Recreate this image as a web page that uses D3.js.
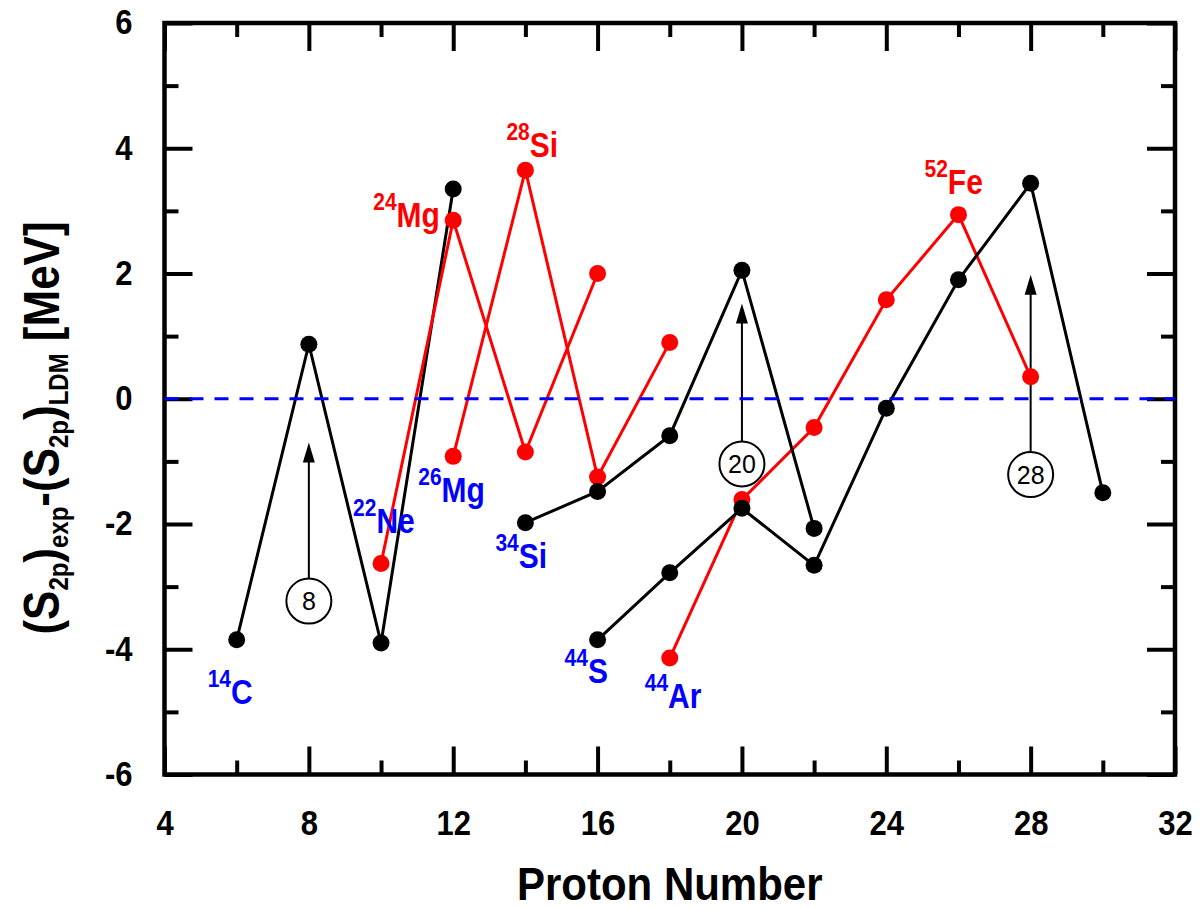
<!DOCTYPE html>
<html>
<head>
<meta charset="utf-8">
<script src="https://cdn.jsdelivr.net/npm/d3@7"></script>
<style>
  body { margin: 0; background: #fff; }
  svg text { font-family: Arial, "Liberation Sans", Helvetica, sans-serif; }
</style>
</head>
<body>
<svg id="chart" width="1200" height="909"></svg>
<script>
// Axis ticks
const xMajorTicks = [4, 8, 12, 16, 20, 24, 28, 32];
const xMinorTicks = [6, 10, 14, 18, 22, 26, 30];
const yMajorTicks = [-6, -4, -2, 0, 2, 4, 6];
const yMinorTicks = [-5, -3, -1, 1, 3, 5];

// Chains: proton number Z and (S2p)exp - (S2p)LDM in MeV
const zC14 = [6, 8, 10, 12];
const dC14 = [-3.85, 0.87, -3.90, 3.35];
const zNe22 = [10, 12, 14, 16];
const dNe22 = [-2.63, 2.85, -0.85, 2.00];
const zMg26 = [12, 14, 16, 18];
const dMg26 = [-0.92, 3.65, -1.25, 0.90];
const zAr44 = [18, 20, 22, 24, 26, 28];
const dAr44 = [-4.14, -1.61, -0.46, 1.58, 2.94, 0.35];
const zSi34 = [14, 16, 18, 20, 22];
const dSi34 = [-1.98, -1.48, -0.59, 2.05, -2.07];
const zS44 = [16, 18, 20, 22, 24, 26, 28, 30];
const dS44 = [-3.85, -2.78, -1.75, -2.66, -0.15, 1.90, 3.44, -1.50];

// Magic proton numbers: circle position and arrow tip (MeV)
const magicNumbers = [8, 20, 28];
const magicCircleAt = [-3.23, -1.04, -1.21];
const magicArrowTip = [-0.70, 1.52, 1.98];

// Nuclide labels (mass number, element) attached to a chain point
const labelMass = ["14", "22", "26", "34", "44", "44", "24", "28", "52"];
const labelElement = ["C", "Ne", "Mg", "Si", "S", "Ar", "Mg", "Si", "Fe"];
const labelPointZ = [6, 10, 12, 14, 16, 18, 12, 14, 26];
const labelPointD = [-3.85, -2.63, -0.92, -1.98, -3.85, -4.14, 2.85, 3.65, 2.94];

const RED = "#ff0000", BLUE = "#0000ff", BLACK = "#000000";
const labelColor = [BLUE, BLUE, BLUE, BLUE, BLUE, BLUE, RED, RED, RED];
// label offsets in pixels from the attached point (left edge, baseline)
const labelOffset = [[-29, 64], [-28, -30], [-35, 46], [-30, 45], [-33, 43], [-25, 50], [-80, 7], [-19, -13], [-34, -21]];

// glyphs are drawn slightly tall
const STRETCH = 1.14;

const svg = d3.select("#chart");
const x = d3.scaleLinear().domain([4, 32]).range([164.5, 1175]);
const y = d3.scaleLinear().domain([-6, 6]).range([774.5, 23]);

function styleAxis(g) {
  g.select(".domain").remove();
  g.selectAll(".tick line").attr("stroke", BLACK).attr("stroke-width", 4);
  g.selectAll(".tick text")
    .attr("fill", BLACK)
    .attr("font-size", 31)
    .attr("font-weight", "bold")
    .attr("font-family", "Arial, 'Liberation Sans', sans-serif");
}
const fmt = d => String(d);
const MAJ = 28, MIN = 14;

// bottom
const bottomAxis = svg.append("g").attr("transform", `translate(0,${y(-6)})`)
  .call(d3.axisBottom(x).tickValues(xMajorTicks).tickSize(-MAJ).tickPadding(36).tickFormat(fmt)).call(styleAxis);
bottomAxis.selectAll(".tick text")
  .attr("dy", null).attr("y", 61 / STRETCH)
  .attr("transform", `scale(1,${STRETCH})`);
svg.append("g").attr("transform", `translate(0,${y(-6)})`)
  .call(d3.axisBottom(x).tickValues(xMinorTicks).tickSize(-MIN).tickFormat("")).call(styleAxis);
// top
svg.append("g").attr("transform", `translate(0,${y(6)})`)
  .call(d3.axisTop(x).tickValues(xMajorTicks).tickSize(-MAJ).tickFormat("")).call(styleAxis);
svg.append("g").attr("transform", `translate(0,${y(6)})`)
  .call(d3.axisTop(x).tickValues(xMinorTicks).tickSize(-MIN).tickFormat("")).call(styleAxis);
// left
const leftAxis = svg.append("g").attr("transform", `translate(${x(4)},0)`)
  .call(d3.axisLeft(y).tickValues(yMajorTicks).tickSize(-MAJ).tickPadding(32).tickFormat(fmt)).call(styleAxis);
leftAxis.selectAll(".tick text")
  .attr("dy", "0.31em")
  .attr("transform", `scale(1,${STRETCH})`);
svg.append("g").attr("transform", `translate(${x(4)},0)`)
  .call(d3.axisLeft(y).tickValues(yMinorTicks).tickSize(-MIN).tickFormat("")).call(styleAxis);
// right
svg.append("g").attr("transform", `translate(${x(32)},0)`)
  .call(d3.axisRight(y).tickValues(yMajorTicks).tickSize(-MAJ).tickFormat("")).call(styleAxis);
svg.append("g").attr("transform", `translate(${x(32)},0)`)
  .call(d3.axisRight(y).tickValues(yMinorTicks).tickSize(-MIN).tickFormat("")).call(styleAxis);

// frame
svg.append("rect")
  .attr("x", x(4)).attr("y", y(6))
  .attr("width", x(32) - x(4)).attr("height", y(-6) - y(6))
  .attr("fill", "none").attr("stroke", BLACK).attr("stroke-width", 4.5);

// axis titles
svg.append("text")
  .attr("transform", `translate(${(x(4) + x(32)) / 2},900) scale(1,1.1)`)
  .attr("text-anchor", "middle")
  .attr("font-size", 42).attr("font-weight", "bold")
  .text("Proton Number");

const yTitle = svg.append("text")
  .attr("transform", `translate(59,428) rotate(-90) scale(1,${STRETCH})`)
  .attr("text-anchor", "middle")
  .attr("font-size", 44).attr("font-weight", "bold");
const titleParts = [["(S", 0], ["2p", 1], [")", 0], ["exp", 1], ["-(S", 0], ["2p", 1], [")", 0], ["LDM", 1], [" [MeV]", 0]];
let isSub = 0;
titleParts.forEach(([t, sub]) => {
  const ts = yTitle.append("tspan").text(t);
  if (sub && !isSub) ts.attr("dy", 8);
  if (!sub && isSub) ts.attr("dy", -8);
  if (sub) ts.attr("font-size", 24);
  isSub = sub;
});

// magic number markers
magicNumbers.forEach((n, i) => {
  const cx = x(n), cy = y(magicCircleAt[i]), tipY = y(magicArrowTip[i]);
  const r = 22.5;
  svg.append("line")
    .attr("x1", cx).attr("x2", cx)
    .attr("y1", cy - r).attr("y2", tipY + 18)
    .attr("stroke", BLACK).attr("stroke-width", 2);
  svg.append("path")
    .attr("d", `M${cx},${tipY} L${cx - 6},${tipY + 20} L${cx + 6},${tipY + 20} Z`)
    .attr("fill", BLACK);
  svg.append("circle")
    .attr("cx", cx).attr("cy", cy).attr("r", r)
    .attr("fill", "#fff").attr("stroke", BLACK).attr("stroke-width", 2);
  svg.append("text")
    .attr("x", cx).attr("y", cy).attr("dy", "0.36em")
    .attr("text-anchor", "middle")
    .attr("font-size", 25)
    .text(String(n));
});

// chains
const chains = [
  { z: zC14, d: dC14, color: BLACK },
  { z: zNe22, d: dNe22, color: RED },
  { z: zMg26, d: dMg26, color: RED },
  { z: zAr44, d: dAr44, color: RED },
  { z: zSi34, d: dSi34, color: BLACK },
  { z: zS44, d: dS44, color: BLACK }
];
const line = d3.line().x(p => x(p[0])).y(p => y(p[1]));
chains.forEach(c => {
  const pts = d3.zip(c.z, c.d);
  const g = svg.append("g");
  g.append("path").attr("d", line(pts))
    .attr("fill", "none").attr("stroke", c.color).attr("stroke-width", 3);
  g.selectAll("circle").data(pts).join("circle")
    .attr("cx", p => x(p[0])).attr("cy", p => y(p[1])).attr("r", 8.5)
    .attr("fill", c.color);
});

// zero reference line
svg.append("line")
  .attr("x1", x(4)).attr("x2", x(32))
  .attr("y1", y(0)).attr("y2", y(0))
  .attr("stroke", BLUE).attr("stroke-width", 3)
  .attr("stroke-dasharray", "14,11");

// nuclide labels
labelMass.forEach((m, i) => {
  const px = x(labelPointZ[i]) + labelOffset[i][0];
  const py = y(labelPointD[i]) + labelOffset[i][1];
  const t = svg.append("text")
    .attr("transform", `translate(${px},${py}) scale(1,${STRETCH})`)
    .attr("fill", labelColor[i]).attr("font-weight", "bold");
  t.append("tspan").attr("font-size", 21).attr("dy", -15).text(m);
  t.append("tspan").attr("font-size", 30).attr("dy", 15).text(labelElement[i]);
});
</script>
</body>
</html>
